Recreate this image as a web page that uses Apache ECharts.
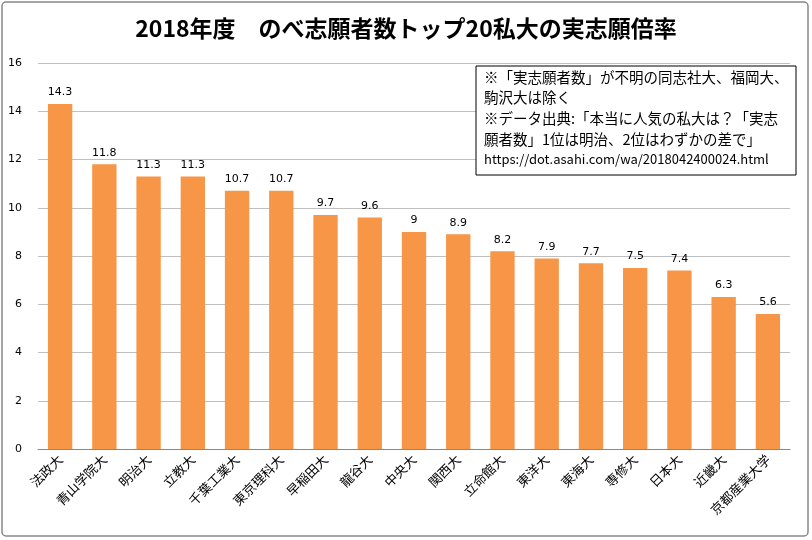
<!DOCTYPE html>
<html><head><meta charset="utf-8">
<script src="https://cdn.jsdelivr.net/npm/echarts@6/dist/echarts.min.js"></script>
<style>html,body{margin:0;padding:0;background:#fff}#c{width:812px;height:540px}</style>
</head><body><div id="c"></div>
<script>
const categories = ['法政大','青山学院大','明治大','立教大','千葉工業大','東京理科大','早稲田大','龍谷大','中央大','関西大','立命館大','東洋大','東海大','専修大','日本大','近畿大','京都産業大学'];
const values = [14.3,11.8,11.3,11.3,10.7,10.7,9.7,9.6,9,8.9,8.2,7.9,7.7,7.5,7.4,6.3,5.6];
const yTicks = [0,2,4,6,8,10,12,14,16];
const noteLines = ['※「実志願者数」が不明の同志社大、福岡大、','駒沢大は除く','※データ出典:「本当に人気の私大は？「実志','願者数」1位は明治、2位はわずかの差で」','https://dot.asahi.com/wa/2018042400024.html'];
const font = '"Noto Sans CJK JP", "Noto Sans", sans-serif';
const chart = echarts.init(document.getElementById('c'));
chart.setOption({
  animation:false,
  textStyle:{fontFamily:font},
  title:{text:'2018年度　のべ志願者数トップ20私大の実志願倍率',left:'center',top:12,
    textStyle:{fontFamily:font,fontSize:23,fontWeight:'bold',color:'#000'}},
  grid:{left:38,right:22,top:63,bottom:91},
  xAxis:{type:'category',data:categories,
    axisLine:{lineStyle:{color:'#888'}},axisTick:{show:false},
    axisLabel:{rotate:45,interval:0,fontSize:13,color:'#000',margin:8,fontFamily:font}},
  yAxis:{type:'value',min:0,max:16,interval:2,
    axisLine:{show:false},axisTick:{show:false},
    splitLine:{lineStyle:{color:'#bfbfbf'}},
    axisLabel:{fontSize:11,color:'#000',margin:16,fontFamily:'"DejaVu Sans", sans-serif',
      formatter:v=>yTicks.includes(v)?String(v):''}},
  series:[{type:'bar',data:values,barWidth:'55%',
    itemStyle:{color:'#f79646'},
    label:{show:true,position:'top',fontSize:11,color:'#000',distance:6,fontFamily:'"DejaVu Sans", sans-serif'}}],
  graphic:[
    {type:'rect',shape:{x:2,y:2,width:806,height:534,r:4},style:{fill:'none',stroke:'#888',lineWidth:1.5},silent:true,z:-1},
    {type:'rect',shape:{x:476,y:66,width:320,height:109},style:{fill:'#fff',stroke:'#000',lineWidth:1},z:10},
    ...noteLines.map((t,i)=>({type:'text',x:484,y:70+i*20.6,z:11,
      style:{text:t,fontSize:i===4?13:14.5,fontFamily:font,fill:'#000'}}))
  ]
});
</script></body></html>
